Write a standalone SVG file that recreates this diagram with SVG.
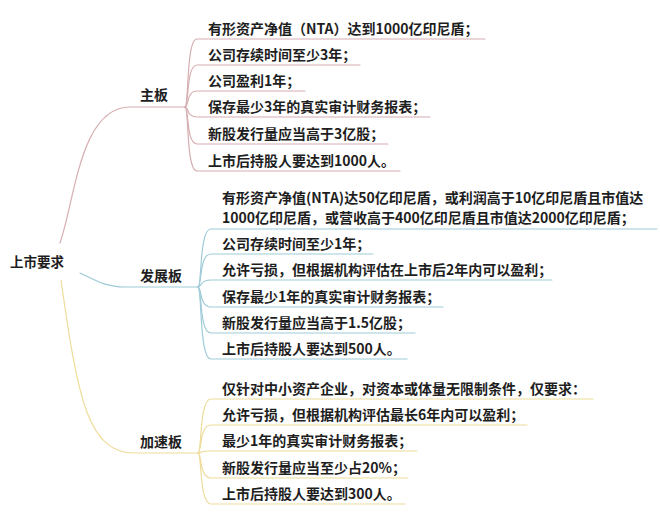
<svg xmlns="http://www.w3.org/2000/svg" width="660" height="520" viewBox="0 0 660 520">
<style>
text{font-family:"Noto Sans CJK SC","Microsoft YaHei",sans-serif;font-size:14px;fill:#1e1e1e;font-weight:700}
.lbl{font-size:14px}
.root{font-size:13.5px}
path{fill:none;stroke-width:1.2;stroke-linecap:round}
.m{stroke:#d6aeb1}
.d{stroke:#9fcbd9}
.a{stroke:#eddc9a}
</style>
<rect width="660" height="520" fill="#fff"/>
<g id="connectors">
<path class="m" d="M60 243 C75 200,80 107,130 107 L185 107"/>
<path class="d" d="M80 273 C95 280,105 287,125 287 L198 287"/>
<path class="a" d="M61 280 C78 400,88 453,135 453 L198 453"/>
<path class="m" d="M185 107 C189 107,186 39,197 39 L485 39"/>
<path class="m" d="M185 107 C189 107,186 65,197 65 L360 65"/>
<path class="m" d="M185 107 C189 107,186 91,197 91 L305 91"/>
<path class="m" d="M185 107 C189 107,186 117,197 117 L430 117"/>
<path class="m" d="M185 107 C189 107,186 144,197 144 L388 144"/>
<path class="m" d="M185 107 C189 107,186 171,197 171 L400 171"/>
<path class="d" d="M198 287 C202 287,199 229,211 229 L657 229"/>
<path class="d" d="M198 287 C202 287,199 254,211 254 L373 254"/>
<path class="d" d="M198 287 C202 287,199 280,211 280 L552 280"/>
<path class="d" d="M198 287 C202 287,199 307,211 307 L443 307"/>
<path class="d" d="M198 287 C202 287,199 333,211 333 L415 333"/>
<path class="d" d="M198 287 C202 287,199 359,211 359 L407 359"/>
<path class="a" d="M198 453 C202 453,199 399,211 399 L593 399"/>
<path class="a" d="M198 453 C202 453,199 425,211 425 L527 425"/>
<path class="a" d="M198 453 C202 453,199 451,211 451 L417 451"/>
<path class="a" d="M198 453 C202 453,199 478,211 478 L408 478"/>
<path class="a" d="M198 453 C202 453,199 504,211 504 L405 504"/>
</g>
<g id="root"><text class="root" x="10" y="267">上市要求</text></g>
<g id="main"><text class="lbl" x="140" y="100">主板</text></g>
<g id="dev"><text class="lbl" x="140" y="281">发展板</text></g>
<g id="accel"><text class="lbl" x="140" y="447">加速板</text></g>
<g id="main-items">
<text x="208" y="34">有形资产净值（NTA）达到1000亿印尼盾；</text>
<text x="208" y="60">公司存续时间至少3年；</text>
<text x="208" y="86">公司盈利1年；</text>
<text x="208" y="112">保存最少3年的真实审计财务报表；</text>
<text x="208" y="139">新股发行量应当高于3亿股；</text>
<text x="208" y="166">上市后持股人要达到1000人。</text>
</g>
<g id="dev-items">
<text x="222" y="203">有形资产净值(NTA)达50亿印尼盾，或利润高于10亿印尼盾且市值达<tspan x="222" dy="20">1000亿印尼盾，或营收高于400亿印尼盾且市值达2000亿印尼盾；</tspan></text>
<text x="222" y="249">公司存续时间至少1年；</text>
<text x="222" y="275">允许亏损，但根据机构评估在上市后2年内可以盈利；</text>
<text x="222" y="302">保存最少1年的真实审计财务报表；</text>
<text x="222" y="328">新股发行量应当高于1.5亿股；</text>
<text x="222" y="354">上市后持股人要达到500人。</text>
</g>
<g id="accel-items">
<text x="222" y="394">仅针对中小资产企业，对资本或体量无限制条件，仅要求：</text>
<text x="222" y="420">允许亏损，但根据机构评估最长6年内可以盈利；</text>
<text x="222" y="446">最少1年的真实审计财务报表；</text>
<text x="222" y="473">新股发行量应当至少占20%；</text>
<text x="222" y="499">上市后持股人要达到300人。</text>
</g>
</svg>
